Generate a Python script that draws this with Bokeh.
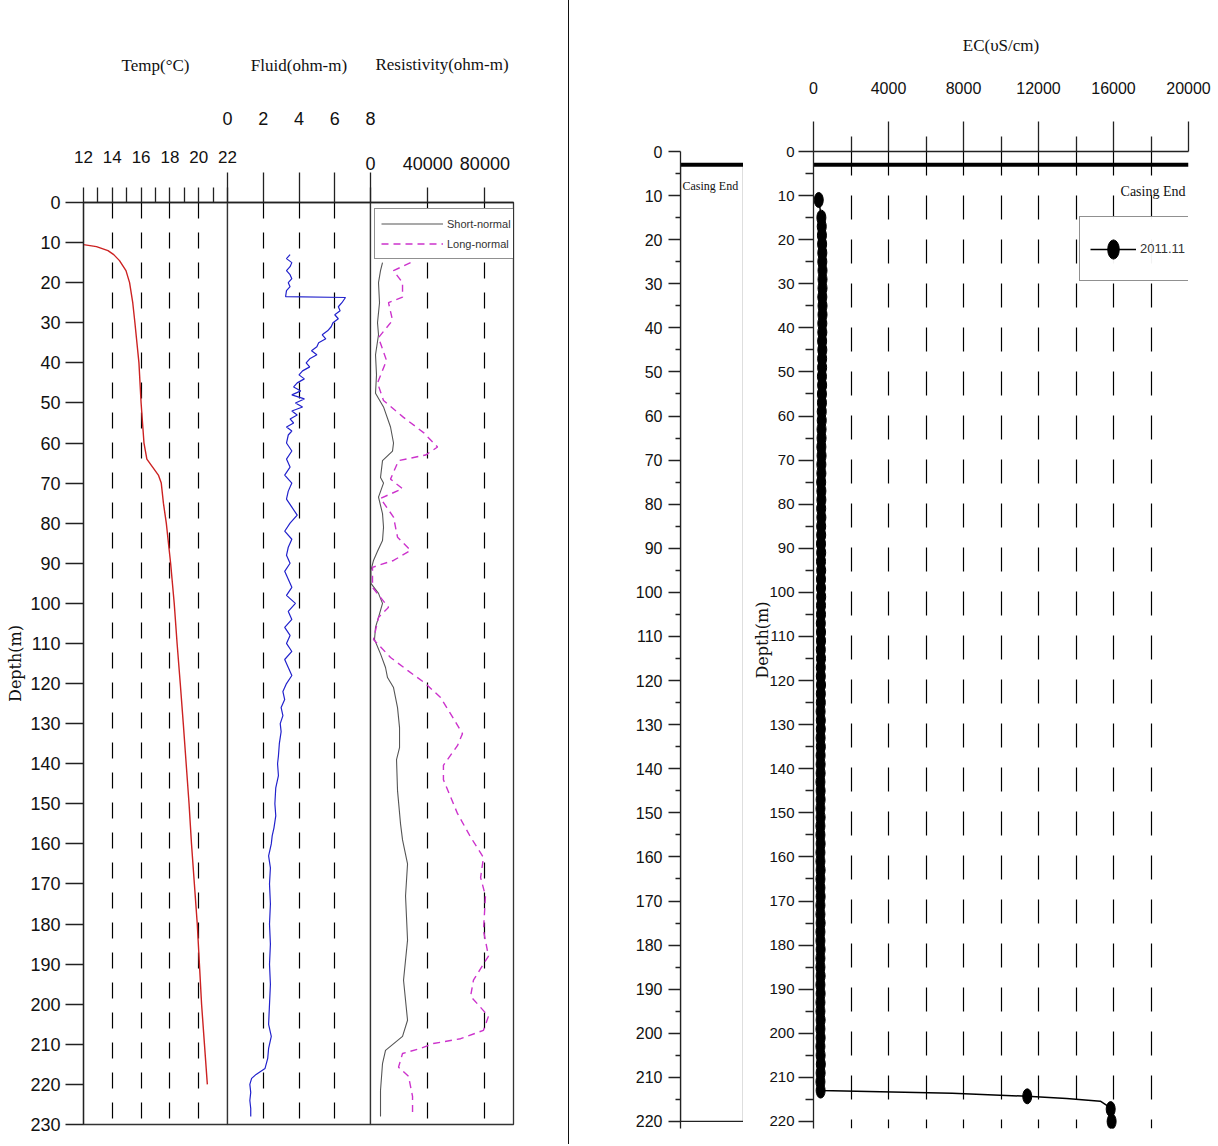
from bokeh.plotting import figure
from bokeh.layouts import row
from bokeh.models import (Range1d, FixedTicker, LinearAxis, Grid, Legend, LegendItem,
                          Label, Div, NumeralTickFormatter)
from bokeh.embed import file_html
from bokeh.resources import INLINE

SANS = "Liberation Sans"
SERIF = "Liberation Serif"
WIDE_SERIF = "DejaVu Serif"

# ---------------- left panel data ----------------
depth_ticks_left = [0, 10, 20, 30, 40, 50, 60, 70, 80, 90, 100, 110, 120, 130, 140, 150,
                    160, 170, 180, 190, 200, 210, 220, 230]
temp_ticks = [12, 14, 16, 18, 20, 22]
temp_minor = [13, 15, 17, 19, 21]
fluid_ticks = [0, 2, 4, 6, 8]
res_ticks = [0, 40000, 80000]

temp_depth = [10.5, 11, 12, 13, 14.5, 17, 20, 25, 30, 40, 50, 60, 64, 66, 68, 70, 75, 80, 90, 100,
              110, 120, 130, 140, 150, 160, 170, 180, 190, 200, 210, 220]
temp_value = [12.0, 12.9, 13.7, 14.1, 14.5, 14.95, 15.2, 15.42, 15.57, 15.85, 16.0, 16.2, 16.4, 16.8,
              17.2, 17.4, 17.55, 17.75, 18.05, 18.3, 18.5, 18.72, 18.93, 19.13, 19.33, 19.5, 19.7,
              19.9, 20.05, 20.2, 20.4, 20.6]

fluid_depth = [13, 14, 15, 16, 17, 18, 19, 20, 21, 22, 23.5, 23.7, 25, 26, 27, 28, 29, 30, 31, 32,
               33, 34, 35, 36, 37, 38, 39, 40, 41, 42, 43, 44, 45, 46, 47, 48, 49, 50, 51, 52,
               53, 54, 55, 56, 57, 58, 60, 62, 64, 66, 68, 70, 72, 74, 76, 78, 80, 82, 84, 86,
               88, 90, 92, 94, 96, 98, 100, 102, 104, 106, 108, 110, 112, 114, 116, 118, 120, 122, 124, 126,
               128, 130, 132, 135, 138, 140, 143, 146, 150, 153, 156, 158, 160, 163, 166, 170, 175, 180, 185, 190,
               195, 200, 205, 208, 211, 213.5, 216, 217.5, 218.5, 220, 222, 224, 226, 228]
fluid_value = [3.5, 3.3, 3.6, 3.5, 3.3, 3.5, 3.6, 3.4, 3.5, 3.3, 3.25, 6.6, 6.4, 6.2, 6.3, 6.0, 6.2, 5.9, 5.8, 5.6,
               5.3, 5.5, 5.1, 5.0, 4.7, 5.0, 4.6, 4.4, 4.6, 4.2, 4.0, 4.3, 3.9, 3.7, 4.1, 3.6, 4.3, 3.8, 4.2, 3.6,
               3.9, 3.5, 3.7, 3.3, 3.6, 3.4, 3.3, 3.6, 3.3, 3.5, 3.2, 3.6, 3.4, 3.3, 3.6, 3.9, 3.5, 3.2, 3.6, 3.4,
               3.3, 3.5, 3.2, 3.4, 3.6, 3.3, 3.8, 3.4, 3.6, 3.2, 3.5, 3.3, 3.6, 3.2, 3.4, 3.6, 3.3, 3.1, 3.2, 3.0,
               3.1, 2.95, 3.0, 2.9, 2.85, 2.8, 2.85, 2.7, 2.65, 2.7, 2.6, 2.5, 2.45, 2.3, 2.4, 2.35, 2.4, 2.35, 2.4, 2.35,
               2.4, 2.35, 2.3, 2.45, 2.3, 2.25, 2.1, 1.6, 1.35, 1.25, 1.3, 1.25, 1.3, 1.3]

short_depth = [15, 17, 20, 25, 30, 33, 38, 43, 47.6, 51, 56, 60, 62, 64.4, 68.6, 70, 73.5, 77.6, 81, 84.3,
               87, 89.3, 91.8, 95, 97.5, 100, 103.5, 106, 109, 112.6, 116, 118.5, 121, 126, 131, 136, 139, 146.7,
               155, 159, 165, 173, 184, 194, 204, 208, 211.5, 214.8, 221.5, 228]
short_value = [8400, 7000, 5600, 6300, 4900, 5600, 3500, 4200, 3500, 9100, 14000, 16100, 15400, 8400, 7000,
               9100, 5600, 8400, 9100, 8400, 4900, 2100, 300, 300, 5600, 8400, 5600, 3500, 2800, 7000, 10500,
               11900, 16100, 18900, 20300, 20300, 18200, 18900, 21000, 22400, 25900, 24500, 25900, 23100,
               25900, 22400, 10500, 8400, 7000, 7000]

long_depth = [15, 17, 20, 23.6, 25, 29.4, 33.7, 39.4, 45, 49.4, 53.6, 57.4, 61, 63, 64.4, 69, 71.4, 73.8,
              78.5, 83.5, 86.8, 89.3, 91, 96, 101, 103.5, 109, 113.5, 116.7, 120, 123.5, 128.7, 132.5, 135.5,
              140.4, 144, 152.4, 158.3, 163.4, 168.4, 173, 181.6, 188, 194, 198, 203, 206.5, 208.6, 209.8, 211,
              212.3, 215.7, 218, 223, 228]
long_value = [28000, 16100, 22400, 22400, 12600, 15400, 5600, 11200, 4900, 9100, 23100, 37100, 46900, 38500,
              19600, 14000, 22400, 7000, 16100, 18900, 28000, 16100, 1400, 1400, 12600, 5600, 2100, 14000,
              25900, 38500, 49000, 58000, 64300, 60800, 51000, 51000, 60800, 70000, 79000, 77000, 80400, 79000,
              82500, 72000, 70000, 82500, 79000, 63000, 44000, 35000, 22400, 19600, 26600, 29400, 29400]

# ---------------- right panel data ----------------
depth_ticks_right = [0, 10, 20, 30, 40, 50, 60, 70, 80, 90, 100, 110, 120, 130, 140, 150, 160, 170,
                     180, 190, 200, 210, 220]
depth_minor_right = [5, 15, 25, 35, 45, 55, 65, 75, 85, 95, 105, 115, 125, 135, 145, 155, 165, 175,
                     185, 195, 205, 215]
ec_ticks = [0, 4000, 8000, 12000, 16000, 20000]
ec_minor = [2000, 6000, 10000, 14000, 18000]
ec_grid = [2000, 4000, 6000, 8000, 10000, 12000, 14000, 16000, 18000, 20000]
casing_depth = 3
bottom_depth = 220

ec_depth = [11, 15, 17, 19, 21, 23, 25, 27, 29, 31, 33, 35, 37, 39, 41, 43, 45, 47, 49, 51, 53, 55, 57, 59,
            61, 63, 65, 67, 69, 71, 73, 75, 77, 79, 81, 83, 85, 87, 89, 91, 93, 95, 97, 99, 101, 103, 105, 107,
            109, 111, 113, 115, 117, 119, 121, 123, 125, 127, 129, 131, 133, 135, 137, 139, 141, 143, 145, 147,
            149, 151, 153, 155, 157, 159, 161, 163, 165, 167, 169, 171, 173, 175, 177, 179, 181, 183, 185, 187,
            189, 191, 193, 195, 197, 199, 201, 203, 205, 207, 209, 211, 213]
ec_value = [280,
            420, 440, 450, 460, 470, 470, 480, 480, 480, 470, 480, 480, 470, 470, 460, 470, 460, 460, 450, 460,
            450, 450, 440,
            440, 430, 430, 420, 430, 420, 420, 410, 420, 420, 410, 420, 410, 410, 400, 410, 400, 410, 400, 400,
            410, 400, 400, 390, 400, 400, 390, 400, 390, 390, 400, 390, 390, 380, 390, 390, 380, 390, 380, 380,
            380, 370, 380, 380, 370, 380, 370, 370, 380, 370, 370, 380, 370, 370, 380, 370, 370, 380, 370, 370,
            380, 370, 370, 380, 370, 380, 370, 370, 380, 370, 380, 370, 380, 390, 380, 370, 380]
ec_tail_depth = [213.6, 214.3, 214.8, 215.4, 216.5, 217.2, 220.0]
ec_tail_value = [7400, 11400, 13500, 15300, 15700, 15850, 15900]
ec_mark_tail_depth = [214.3, 217.2, 220.0]
ec_mark_tail_value = [11400, 15850, 15900]


def base_fig(xr, yr, fw, fh, bl, br, bt, bb, shift=0):
    kw = {}
    if shift:
        kw["margin"] = (0, 0, 0, -shift)
    p = figure(frame_width=fw, frame_height=fh, x_range=xr, y_range=yr,
               output_backend="svg", toolbar_location=None,
               x_axis_location=None, y_axis_location=None, min_border=0, **kw)
    p.center = [r for r in p.center if not isinstance(r, Grid)]
    p.min_border_left = bl
    p.min_border_right = br
    p.min_border_top = bt
    p.min_border_bottom = bb
    p.background_fill_color = "white"
    p.border_fill_color = None if shift else "white"
    p.outline_line_color = None
    return p


def style_axis(ax, size="18px"):
    ax.major_label_text_font = SANS
    ax.major_label_text_font_size = size
    ax.major_label_text_color = "#111111"
    ax.axis_line_color = "#222222"
    ax.axis_line_width = 1.3
    ax.major_tick_line_color = "#222222"
    ax.minor_tick_line_color = "#222222"
    ax.major_tick_line_width = 1.3
    ax.minor_tick_line_width = 1.3
    ax.major_tick_in = 0
    ax.minor_tick_in = 0
    ax.axis_label_text_font = SERIF
    ax.axis_label_text_font_style = "normal"
    ax.axis_label_text_font_size = "17px"
    ax.axis_label_text_color = "#111111"


def dashed_grid(p, ticks, dash, offset=0):
    g = Grid(dimension=0, ticker=FixedTicker(ticks=ticks), grid_line_color="black",
             grid_line_width=1.2, grid_line_dash=dash, grid_line_dash_offset=offset)
    p.add_layout(g)


depth_range = Range1d(230, 0)
FH = 922
TOP = 202
BOT = 14
PAD = 14   # overlapping side room so that edge tick labels are not clamped

# ---- Temperature track ----
pa = base_fig(Range1d(12, 22), depth_range, 144, FH, 83, PAD, TOP, BOT)
pa.outline_line_color = "#333333"
pa.outline_line_width = 1.3
ax = LinearAxis(ticker=FixedTicker(ticks=depth_ticks_left))
style_axis(ax)
ax.major_tick_out = 18
ax.minor_tick_out = 0
ax.major_label_standoff = 5
ax.axis_label = "Depth(m)"
ax.axis_label_text_font = WIDE_SERIF
ax.axis_label_text_font_size = "16px"
ax.axis_label_standoff = 2
pa.add_layout(ax, "left")
ax = LinearAxis(ticker=FixedTicker(ticks=temp_ticks, minor_ticks=temp_minor))
style_axis(ax, "17px")
ax.major_tick_out = 15
ax.minor_tick_out = 15
ax.major_label_standoff = 25
ax.axis_label = "Temp(°C)"
ax.axis_label_standoff = 73
pa.add_layout(ax, "above")
dashed_grid(pa, [14, 16, 18, 20], "16 14")
pa.line(temp_value, temp_depth, line_color="#cc2222", line_width=1.4)

# ---- Fluid track ----
pb = base_fig(Range1d(0, 8), depth_range, 143, FH, PAD, PAD, TOP, BOT, shift=2 * PAD)
pb.outline_line_color = "#333333"
pb.outline_line_width = 1.3
ax = LinearAxis(ticker=FixedTicker(ticks=fluid_ticks))
style_axis(ax)
ax.major_tick_out = 30
ax.minor_tick_out = 0
ax.major_label_standoff = 48
ax.axis_label = "Fluid(ohm-m)"
ax.axis_label_standoff = 34
pb.add_layout(ax, "above")
dashed_grid(pb, [2, 4, 6], "16 14")
pb.line(fluid_value, fluid_depth, line_color="#2222cc", line_width=1.2)

# ---- Resistivity track ----
pc = base_fig(Range1d(0, 100000), depth_range, 143, FH, PAD, 55, TOP, BOT, shift=2 * PAD)
pc.outline_line_color = "#333333"
pc.outline_line_width = 1.3
ax = LinearAxis(ticker=FixedTicker(ticks=res_ticks), formatter=NumeralTickFormatter(format="0"))
style_axis(ax)
ax.major_tick_out = 15
ax.minor_tick_out = 0
ax.major_label_standoff = 18
ax.axis_label = "Resistivity(ohm-m)"
ax.axis_label_standoff = 80
pc.add_layout(ax, "above")
dashed_grid(pc, [40000, 80000], "16 14")
r_short = pc.line(short_value, short_depth, line_color="#555555", line_width=1.1)
r_long = pc.line(long_value, long_depth, line_color="#cc33cc", line_width=1.4, line_dash="7 5")
leg = Legend(items=[LegendItem(label="Short-normal", renderers=[r_short]),
                    LegendItem(label="Long-normal", renderers=[r_long])],
             location=(4, FH - 8 - 49), orientation="vertical", padding=6, spacing=3,
             glyph_width=62, glyph_height=17, label_height=17, label_standoff=4,
             label_text_font=SANS, label_text_font_size="11px", label_text_color="#333333",
             border_line_color="#222222", border_line_width=1.5, background_fill_alpha=1.0, margin=0)
pc.add_layout(leg)

sep = Div(width=1, height=1144, margin=0, styles={"background-color": "#111111"})

# ---- Casing panel ----
RFH = 977
RTOP = 151
RBOT = 10
right_range = Range1d(221.6, 0)
pd_ = base_fig(Range1d(0, 1), right_range, 63, RFH, 111, 0, RTOP, RBOT)
ax = LinearAxis(ticker=FixedTicker(ticks=depth_ticks_right, minor_ticks=depth_minor_right))
style_axis(ax, "16px")
ax.major_tick_out = 12
ax.minor_tick_out = 5
ax.major_label_standoff = 6
pd_.add_layout(ax, "left")
pd_.quad(left=[0], right=[1], top=[casing_depth], bottom=[bottom_depth], fill_color=None,
         line_color="#222222", line_width=1.3)
pd_.segment(x0=[0], x1=[1], y0=[casing_depth], y1=[casing_depth], line_color="black", line_width=4)
pd_.add_layout(Label(x=0, y=casing_depth, text="Casing End", x_offset=2, y_offset=-14,
                     text_baseline="top", text_font=SERIF, text_font_size="12px", text_color="#111111"))

# ---- EC panel ----
pe = base_fig(Range1d(0, 20000), right_range, 375, RFH, 70, 28, RTOP, RBOT)
ax = LinearAxis(ticker=FixedTicker(ticks=depth_ticks_right, minor_ticks=depth_minor_right))
style_axis(ax, "15px")
ax.major_tick_out = 15
ax.minor_tick_out = 8
ax.major_label_standoff = 4
ax.axis_label = "Depth(m)"
ax.axis_label_text_font = WIDE_SERIF
ax.axis_label_text_font_size = "16px"
ax.axis_label_standoff = -6
pe.add_layout(ax, "left")
ax = LinearAxis(ticker=FixedTicker(ticks=ec_ticks, minor_ticks=ec_minor),
                formatter=NumeralTickFormatter(format="0"))
style_axis(ax, "16px")
ax.major_tick_out = 30
ax.minor_tick_out = 15
ax.major_label_standoff = 28
ax.axis_label = "EC(υS/cm)"
ax.axis_label_standoff = 24
pe.add_layout(ax, "above")
dashed_grid(pe, ec_grid, "24 20")
pe.segment(x0=[0], x1=[20000], y0=[casing_depth], y1=[casing_depth], line_color="black", line_width=4)
pe.add_layout(Label(x=20000, y=casing_depth, text="Casing End", x_offset=-3, y_offset=-19,
                    text_align="right", text_baseline="top", text_font=SERIF,
                    text_font_size="14px", text_color="#111111"))
r_ecl = pe.line(ec_value + ec_tail_value, ec_depth + ec_tail_depth, line_color="black", line_width=1.5)
r_ecm = pe.ellipse(x=ec_value + ec_mark_tail_value, y=ec_depth + ec_mark_tail_depth,
                   width=9, height=15, width_units="screen", height_units="screen",
                   fill_color="black", line_color="black")
leg_e = Legend(items=[LegendItem(label="2011.11", renderers=[r_ecl, r_ecm])],
               location=(266, RFH - 67 - 63), padding=10, glyph_width=46, glyph_height=24,
               label_height=43, label_standoff=4, label_text_font=SANS,
               label_text_font_size="13px", label_text_color="#333333",
               border_line_color="#222222", border_line_width=1.5, margin=0)
pe.add_layout(leg_e)

left_group = row(pa, pb, pc, spacing=0)
right_group = row(pd_, pe, spacing=0)
layout = row(left_group, sep, right_group, spacing=0)
open("out.html", "w").write(file_html(layout, INLINE))
